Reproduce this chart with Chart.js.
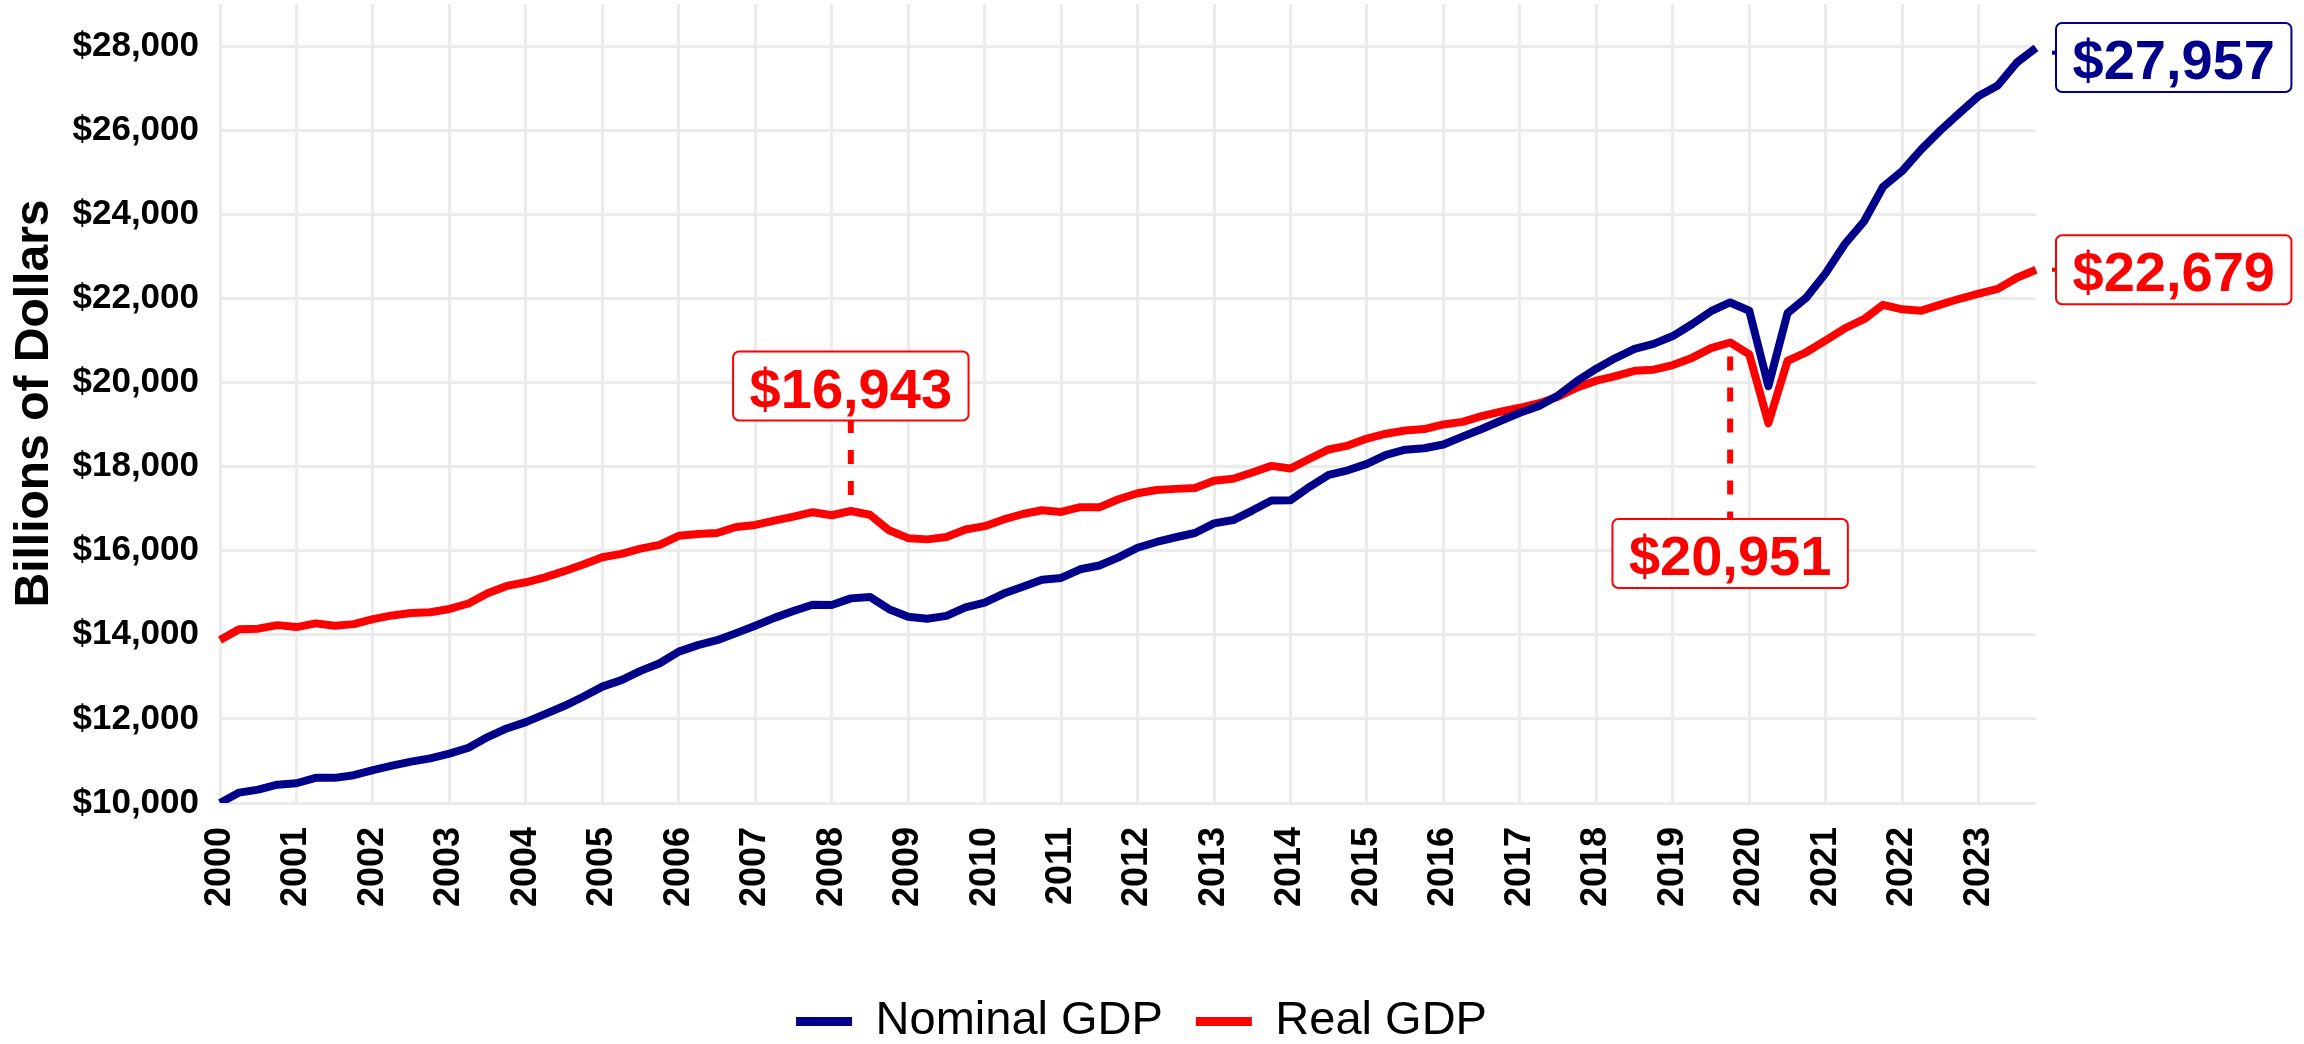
<!DOCTYPE html>
<html>
<head>
<meta charset="utf-8">
<script src="https://cdn.jsdelivr.net/npm/chart.js@4.4.1/dist/chart.umd.min.js"></script>
<style>
  html, body { margin: 0; padding: 0; background: #ffffff; }
  #wrap { width: 2304px; height: 1044px; position: relative; }
</style>
</head>
<body>
<div id="wrap"><canvas id="c"></canvas></div>
<script>
// ---------------- DATA ----------------
const years = ['2000','2001','2002','2003','2004','2005','2006','2007','2008','2009','2010','2011',
               '2012','2013','2014','2015','2016','2017','2018','2019','2020','2021','2022','2023'];
const quarterNames = ['Q1','Q2','Q3','Q4'];
const quarters = years.flatMap(y => quarterNames.map(q => y + ' ' + q));

// Billions of dollars, quarterly
const nominalGDP = [
  10002.2, 10247.7, 10318.2, 10435.7,
  10470.2, 10599.0, 10598.0, 10660.5,
  10783.5, 10887.5, 10984.0, 11061.4,
  11174.1, 11312.8, 11566.7, 11772.2,
  11923.4, 12112.8, 12305.3, 12527.2,
  12767.3, 12922.7, 13142.6, 13324.2,
  13599.2, 13753.4, 13870.2, 14039.6,
  14215.7, 14402.1, 14564.1, 14715.1,
  14706.5, 14865.7, 14898.9, 14608.2,
  14430.9, 14381.2, 14448.9, 14651.2,
  14764.6, 14980.2, 15141.6, 15309.5,
  15351.4, 15557.5, 15647.7, 15842.3,
  16068.8, 16207.1, 16319.5, 16420.4,
  16648.2, 16728.7, 16953.8, 17192.0,
  17197.7, 17518.5, 17804.2, 17912.1,
  18063.5, 18279.8, 18401.6, 18435.1,
  18525.9, 18711.7, 18892.6, 19089.4,
  19280.1, 19438.6, 19692.6, 20037.1,
  20328.6, 20580.9, 20798.7, 20917.9,
  21104.1, 21384.8, 21694.3, 21902.4,
  21706.5, 19913.1, 21647.6, 22024.5,
  22600.2, 23292.4, 23828.0, 24654.6,
  25029.1, 25544.3, 25994.6, 26408.4,
  26813.6, 27063.0, 27610.1, 27957.0
];
const realGDP = [
  13878.1, 14130.9, 14145.3, 14229.8,
  14183.1, 14271.7, 14214.5, 14253.6,
  14372.8, 14460.8, 14519.6, 14537.6,
  14614.1, 14743.6, 14988.8, 15162.8,
  15248.7, 15366.6, 15512.6, 15670.9,
  15844.7, 15922.8, 16047.6, 16136.7,
  16353.8, 16396.2, 16420.7, 16561.9,
  16611.7, 16713.3, 16809.6, 16915.2,
  16843.0, 16943.3, 16854.3, 16485.4,
  16298.3, 16269.1, 16326.5, 16502.8,
  16582.7, 16743.2, 16872.3, 16960.9,
  16920.3, 17035.1, 17031.3, 17222.6,
  17367.0, 17444.5, 17469.7, 17489.9,
  17662.4, 17709.7, 17860.5, 18016.1,
  17953.0, 18185.6, 18406.9, 18500.0,
  18666.6, 18782.2, 18857.4, 18892.2,
  19001.7, 19062.7, 19197.9, 19304.4,
  19398.3, 19506.9, 19660.8, 19882.4,
  20044.1, 20150.5, 20276.2, 20304.9,
  20415.2, 20584.5, 20817.6, 20951.1,
  20665.6, 19034.8, 20511.8, 20724.1,
  21001.6, 21289.3, 21505.0, 21847.6,
  21738.9, 21708.2, 21851.1, 21990.0,
  22112.3, 22225.4, 22490.7, 22679.3
];
const seriesNames = ['Nominal GDP', 'Real GDP'];
const calloutQuarters = ['2008 Q2', '2019 Q4'];   // annotated Real GDP points
const yTicks = [10000, 12000, 14000, 16000, 18000, 20000, 22000, 24000, 26000, 28000];
const yMin = 10000, yMax = 29000;

// ---------------- STYLE ----------------
const FONT = "'Liberation Sans', Arial, Helvetica, sans-serif";
const NAVY = '#00008B';
const RED = '#FF0000';
const GRID = '#EBEBEB';
const calloutOffsets = [-125, 211];  // px from point to box centre

function money(v) { return '$' + Math.round(v).toLocaleString('en-US'); }

function drawBox(ctx, text, cx, cy, color) {
  ctx.save();
  ctx.font = 'bold 56px ' + FONT;
  const tw = ctx.measureText(text).width;
  const w = tw + 33, h = 69;
  const x = cx - w / 2, y = cy - h / 2;
  ctx.beginPath();
  ctx.roundRect(x, y, w, h, 6);
  ctx.fillStyle = '#ffffff';
  ctx.fill();
  ctx.lineWidth = 2;
  ctx.strokeStyle = color;
  ctx.stroke();
  ctx.fillStyle = color;
  ctx.textAlign = 'center';
  ctx.textBaseline = 'alphabetic';
  ctx.fillText(text, cx, cy + 21.5);
  ctx.restore();
  return { x, y, w, h };
}

const annotationPlugin = {
  id: 'gdpAnnotations',
  beforeLayout(chart) {
    const lg = chart.legend;
    if (lg && !lg._fixedFit) {
      const orig = lg.fit;
      lg.fit = function () { orig.call(this); this.height = 79; };
      lg._fixedFit = true;
    }
  },
  afterDatasetsDraw(chart) {
    const ctx = chart.ctx;
    const xs = chart.scales.x, ys = chart.scales.y;
    // callouts on Real GDP
    calloutQuarters.forEach((q, k) => {
      const i = quarters.indexOf(q);
      const px = xs.getPixelForValue(i);
      const py = ys.getPixelForValue(realGDP[i]);
      const dy = calloutOffsets[k];
      const cy = py + dy;
      const boxEdge = dy < 0 ? cy + 34.5 : cy - 34.5;
      const start = dy < 0 ? py - 16 : py + 14;
      ctx.save();
      ctx.strokeStyle = RED;
      ctx.lineWidth = 6;
      ctx.setLineDash([14, 17]);
      ctx.beginPath();
      ctx.moveTo(px, start);
      ctx.lineTo(px, boxEdge);
      ctx.stroke();
      ctx.restore();
      drawBox(ctx, money(realGDP[i]), px, cy, RED);
    });
    // end-of-line labels
    [[nominalGDP, NAVY], [realGDP, RED]].forEach(([arr, color]) => {
      const i = arr.length - 1;
      const px = xs.getPixelForValue(i);
      const py = ys.getPixelForValue(arr[i]);
      ctx.save();
      ctx.font = 'bold 56px ' + FONT;
      const w = ctx.measureText(money(arr[i])).width + 33;
      ctx.restore();
      const left = px + 20;
      const cy = Math.max(py, chart.chartArea.top + 19 + 34.5);
      const my = (py + cy) / 2;
      ctx.save();
      ctx.strokeStyle = color;
      ctx.lineWidth = 4;
      ctx.beginPath();
      ctx.moveTo(left - 4, my);
      ctx.lineTo(left, my);
      ctx.stroke();
      ctx.restore();
      drawBox(ctx, money(arr[i]), left + w / 2, cy, color);
    });
  }
};

const ctx = document.getElementById('c').getContext('2d');
new Chart(ctx, {
  type: 'line',
  data: {
    labels: quarters,
    datasets: [
      { label: seriesNames[0], data: nominalGDP, borderColor: NAVY, backgroundColor: NAVY,
        borderWidth: 8, pointRadius: 0, tension: 0, borderJoinStyle: 'round', yAxisID: 'y' },
      { label: seriesNames[1], data: realGDP, borderColor: RED, backgroundColor: RED,
        borderWidth: 8, pointRadius: 0, tension: 0, borderJoinStyle: 'round', yAxisID: 'y' }
    ]
  },
  options: {
    responsive: true,
    maintainAspectRatio: false,
    devicePixelRatio: 1,
    animation: false,
    layout: { padding: { top: 4, right: 21, left: 0, bottom: 0 } },
    plugins: {
      tooltip: { enabled: false },
      legend: {
        position: 'bottom',
        labels: {
          font: { family: FONT, size: 47, weight: 'normal' },
          color: '#000000',
          boxWidth: 56,
          boxHeight: 9,
          padding: 33,
          generateLabels(chart) {
            const items = Chart.defaults.plugins.legend.labels.generateLabels(chart);
            items.forEach(it => { it.lineWidth = 0; });
            return items;
          }
        }
      }
    },
    scales: {
      x: {
        type: 'category',
        offset: false,
        border: { display: false },
        grid: {
          drawTicks: false,
          lineWidth: 3,
          color: (c) => (c.index % 4 === 0 ? GRID : 'rgba(0,0,0,0)')
        },
        ticks: {
          autoSkip: false,
          minRotation: 90,
          maxRotation: 90,
          padding: 24,
          color: '#000000',
          font: { family: FONT, size: 36, weight: 'bold' },
          callback: (v, i) => (quarters[i].endsWith('Q1') ? years[i / 4] : '')
        },
        afterFit(s) { s.height = 162; s.paddingLeft = 0; s.paddingRight = 0; }
      },
      y: {
        type: 'linear',
        position: 'left',
        min: yMin,
        max: yMax,
        border: { display: false },
        grid: { drawTicks: false, lineWidth: 3, color: GRID },
        afterBuildTicks(s) { s.ticks = yTicks.map(v => ({ value: v })); },
        ticks: {
          padding: 21,
          color: '#000000',
          font: { family: FONT, size: 35, weight: 'bold' },
          callback: (v) => money(v)
        },
        title: {
          display: true,
          text: 'Billions of Dollars',
          color: '#000000',
          font: { family: FONT, size: 48, weight: 'bold' },
          padding: { top: 6, bottom: 0 }
        },
        afterFit(s) { s.width = 220; s.paddingTop = 0; s.paddingBottom = 0; }
      },
      y2: {
        type: 'linear',
        position: 'right',
        display: true,
        border: { display: false },
        grid: { display: false },
        ticks: { display: false },
        afterFit(s) { s.width = 247; s.paddingTop = 0; s.paddingBottom = 0; }
      }
    }
  },
  plugins: [annotationPlugin]
});
</script>
</body>
</html>
